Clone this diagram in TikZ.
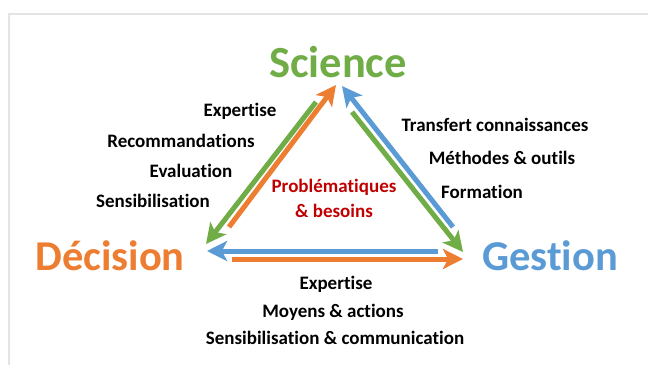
\documentclass[tikz,border=0pt]{standalone}
\usepackage{fontspec}
\setmainfont{Carlito}[Ligatures=NoCommon]
\usetikzlibrary{arrows.meta}
\definecolor{cgreen}{HTML}{70AD47}
\definecolor{corange}{HTML}{ED7D31}
\definecolor{cblue}{HTML}{5B9BD5}
\definecolor{cred}{HTML}{C00000}
\definecolor{cframe}{HTML}{E4E4E4}
\tikzset{
  big/.style={font=\fontsize{42.5}{46}\selectfont\bfseries, inner sep=0pt},
  lbl/.style={font=\fontsize{19}{22}\selectfont\bfseries, inner sep=0pt, text=black},
  arr/.style={line width=5pt, -{Stealth[length=20pt,width=20pt,inset=5pt]}},
}
\begin{document}
\begin{tikzpicture}[x=1pt,y=-1pt]
\useasboundingbox (0,0) rectangle (648,365);
\draw[cframe, line width=1.2pt] (9,365) -- (9,14) -- (648,14);

\node[big, text=cgreen, font=\fontsize{44.5}{48}\selectfont\bfseries] (sci) at (338,62) {Science};
\node[big, text=corange] (dec) at (110,256) {Décision};
\node[big, text=cblue] (ges) at (550,256) {Gestion};

% arrow endpoints
\coordinate (gL1) at (316,102); \coordinate (gL2) at (206,244);
\coordinate (oL1) at (229,227); \coordinate (oL2) at (336,85);
\coordinate (bR1) at (453,227); \coordinate (bR2) at (342,86);
\coordinate (gR1) at (352,112); \coordinate (gR2) at (463,252);
\coordinate (bB1) at (438,251); \coordinate (bB2) at (207,251);
\coordinate (oB1) at (232,259); \coordinate (oB2) at (463,259);

\draw[arr, cgreen] (gL1) -- (gL2);
\draw[arr, corange] (oL1) -- (oL2);
\draw[arr, cblue] (bR1) -- (bR2);
\draw[arr, cgreen] (gR1) -- (gR2);
\draw[arr, cblue] (bB1) -- (bB2);
\draw[arr, corange] (oB1) -- (oB2);

\node[lbl] (l1) at (240,111) {Expertise};
\node[lbl] (l2) at (181,141) {Recommandations};
\node[lbl] (l3) at (191,171) {Evaluation};
\node[lbl] (l4) at (153,201) {Sensibilisation};

\node[lbl] (r1) at (495,125) {Transfert connaissances};
\node[lbl] (r2) at (502,158) {Méthodes \& outils};
\node[lbl] (r3) at (482,192) {Formation};

\node[lbl, text=cred] (c1) at (334,187) {Problématiques};
\node[lbl, text=cred] (c2) at (334,211) {\& besoins};

\node[lbl] (b1) at (336,284) {Expertise};
\node[lbl] (b2) at (333,312) {Moyens \& actions};
\node[lbl] (b3) at (335,338) {Sensibilisation \& communication};
\end{tikzpicture}
\end{document}
